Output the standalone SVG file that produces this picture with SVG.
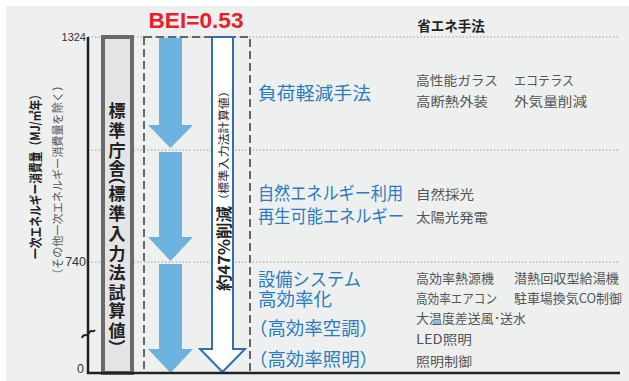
<svg xmlns="http://www.w3.org/2000/svg" width="629" height="381" viewBox="0 0 629 381">
<style>
.jp{font-family:"Noto Sans CJK JP","Noto Sans",sans-serif}
.cat{font-family:"Noto Sans CJK JP",sans-serif;font-size:18px;fill:#2b7bbf;dominant-baseline:central}
.det{font-family:"Noto Sans CJK JP",sans-serif;font-size:13px;fill:#555;dominant-baseline:central}
.dot{stroke:#9a9a9a;stroke-width:1;stroke-dasharray:1.5 2;fill:none}
.tick{font-family:"Liberation Sans",sans-serif;fill:#333;text-anchor:end;dominant-baseline:central}
.blue{fill:#6cb2de}
</style>
<rect x="0" y="0" width="629" height="381" fill="#ffffff"/>
<rect x="6" y="6" width="623" height="375" fill="#eef0ef"/>

<g id="grid">
<line class="dot" x1="88" y1="37" x2="620" y2="37"/>
<line class="dot" x1="88" y1="150" x2="620" y2="150"/>
<line class="dot" x1="88" y1="262" x2="620" y2="262"/>
</g>

<g id="standard-box">
<rect x="103" y="37" width="29" height="336" fill="#e4e4e4" stroke="#6a6a6a" stroke-width="4"/>
<text class="jp" font-size="17" font-weight="bold" fill="#222" text-anchor="middle"><tspan x="117" y="116.5">標</tspan><tspan x="117" y="136.5">準</tspan><tspan x="117" y="156.5">庁</tspan><tspan x="117" y="174.5">舎</tspan><tspan x="118.5" y="167.5" rotate="90">（</tspan><tspan x="117" y="199.5">標</tspan><tspan x="117" y="219.5">準</tspan><tspan x="117" y="239.5">入</tspan><tspan x="117" y="259.5">力</tspan><tspan x="117" y="278.5">法</tspan><tspan x="117" y="298.5">試</tspan><tspan x="117" y="316.5">算</tspan><tspan x="117" y="336.5">値</tspan><tspan x="118.5" y="339" rotate="90">）</tspan></text>
</g>

<g id="bei-box">
<rect x="144" y="37" width="106" height="336" fill="none" stroke="#666" stroke-width="2" stroke-dasharray="8 4"/>
<text x="196" y="28" font-family="Liberation Sans,Arial,sans-serif" font-size="22" font-weight="bold" fill="#e8202a" text-anchor="middle" textLength="95" lengthAdjust="spacingAndGlyphs">BEI=0.53</text>
</g>

<g id="connectors">
<polygon class="blue" points="159,38 182,38 182,125 193,125 170.5,148 148,125 159,125"/>
<polygon class="blue" points="159,152 182,152 182,237 193,237 170.5,261 148,237 159,237"/>
<polygon class="blue" points="159,264 182,264 182,349 193,349 170.5,373 148,349 159,349"/>
<polygon points="212,37 233,37 233,349 245,349 222.5,372 200,349 212,349" fill="#ffffff" stroke="#2f6fae" stroke-width="2" stroke-linejoin="miter"/>
</g>

<g id="reduction-label">
<text class="jp" transform="translate(223,291) rotate(-90)" dominant-baseline="central" fill="#222"><tspan font-size="15.5" font-weight="bold" textLength="85" lengthAdjust="spacingAndGlyphs">約47%削減</tspan><tspan font-size="11" textLength="121" lengthAdjust="spacingAndGlyphs">（標準入力法計算値）</tspan></text>
</g>

<g id="axis">
<line x1="88" y1="37" x2="88" y2="374" stroke="#222" stroke-width="2.5"/>
<line x1="87" y1="373" x2="620" y2="373" stroke="#222" stroke-width="2.5"/>
<path d="M82,338 C84,332 87,338 89,333 C91,329 93,333 95,330" fill="none" stroke="#222" stroke-width="2"/>
<text class="tick" x="86" y="37" font-size="11">1324</text>
<text class="tick" x="86" y="262" font-size="12.5">740</text>
<text class="tick" x="84" y="369" font-size="12.5">0</text>
<text class="jp" transform="translate(34,259) rotate(-90)" dominant-baseline="central" font-size="13" font-weight="bold" fill="#222" textLength="170" lengthAdjust="spacingAndGlyphs">一次エネルギー消費量（MJ/㎡年）</text>
<text class="jp" transform="translate(57,280) rotate(-90)" dominant-baseline="central" font-size="11.5" fill="#555" textLength="200" lengthAdjust="spacingAndGlyphs">（その他一次エネルギー消費量を除く）</text>
</g>

<g id="header">
<text class="jp" x="451" y="25" font-size="13.5" font-weight="bold" fill="#222" text-anchor="middle" dominant-baseline="central">省エネ手法</text>
</g>

<g id="load-reduction">
<text class="cat" x="258" y="92" textLength="113" lengthAdjust="spacingAndGlyphs">負荷軽減手法</text>
<text class="det" x="416" y="79" textLength="82" lengthAdjust="spacingAndGlyphs">高性能ガラス</text>
<text class="det" x="514" y="79" textLength="60" lengthAdjust="spacingAndGlyphs">エコテラス</text>
<text class="det" x="416" y="100" textLength="72" lengthAdjust="spacingAndGlyphs">高断熱外装</text>
<text class="det" x="514" y="100" textLength="73" lengthAdjust="spacingAndGlyphs">外気量削減</text>
</g>

<g id="natural-energy">
<text class="cat" x="258" y="192" textLength="145" lengthAdjust="spacingAndGlyphs">自然エネルギー利用</text>
<text class="cat" x="258" y="215" textLength="146" lengthAdjust="spacingAndGlyphs">再生可能エネルギー</text>
<text class="det" x="416" y="193" textLength="58" lengthAdjust="spacingAndGlyphs">自然採光</text>
<text class="det" x="416" y="216" textLength="72" lengthAdjust="spacingAndGlyphs">太陽光発電</text>
</g>

<g id="equipment">
<text class="cat" x="258" y="278" textLength="103" lengthAdjust="spacingAndGlyphs">設備システム</text>
<text class="cat" x="258" y="298" textLength="74" lengthAdjust="spacingAndGlyphs">高効率化</text>
<text class="cat" x="249" y="327" textLength="129" lengthAdjust="spacingAndGlyphs">（高効率空調）</text>
<text class="cat" x="249" y="358" textLength="129" lengthAdjust="spacingAndGlyphs">（高効率照明）</text>
<text class="det" x="416" y="277" textLength="78" lengthAdjust="spacingAndGlyphs">高効率熱源機</text>
<text class="det" x="514" y="277" textLength="105" lengthAdjust="spacingAndGlyphs">潜熱回収型給湯機</text>
<text class="det" x="416" y="297" textLength="81" lengthAdjust="spacingAndGlyphs">高効率エアコン</text>
<text class="det" x="514" y="297" textLength="108" lengthAdjust="spacingAndGlyphs">駐車場換気CO制御</text>
<text class="det" x="416" y="317" textLength="110" lengthAdjust="spacingAndGlyphs">大温度差送風･送水</text>
<text class="det" x="416" y="338" textLength="56" lengthAdjust="spacingAndGlyphs">LED照明</text>
<text class="det" x="416" y="360" textLength="56" lengthAdjust="spacingAndGlyphs">照明制御</text>
</g>
</svg>
